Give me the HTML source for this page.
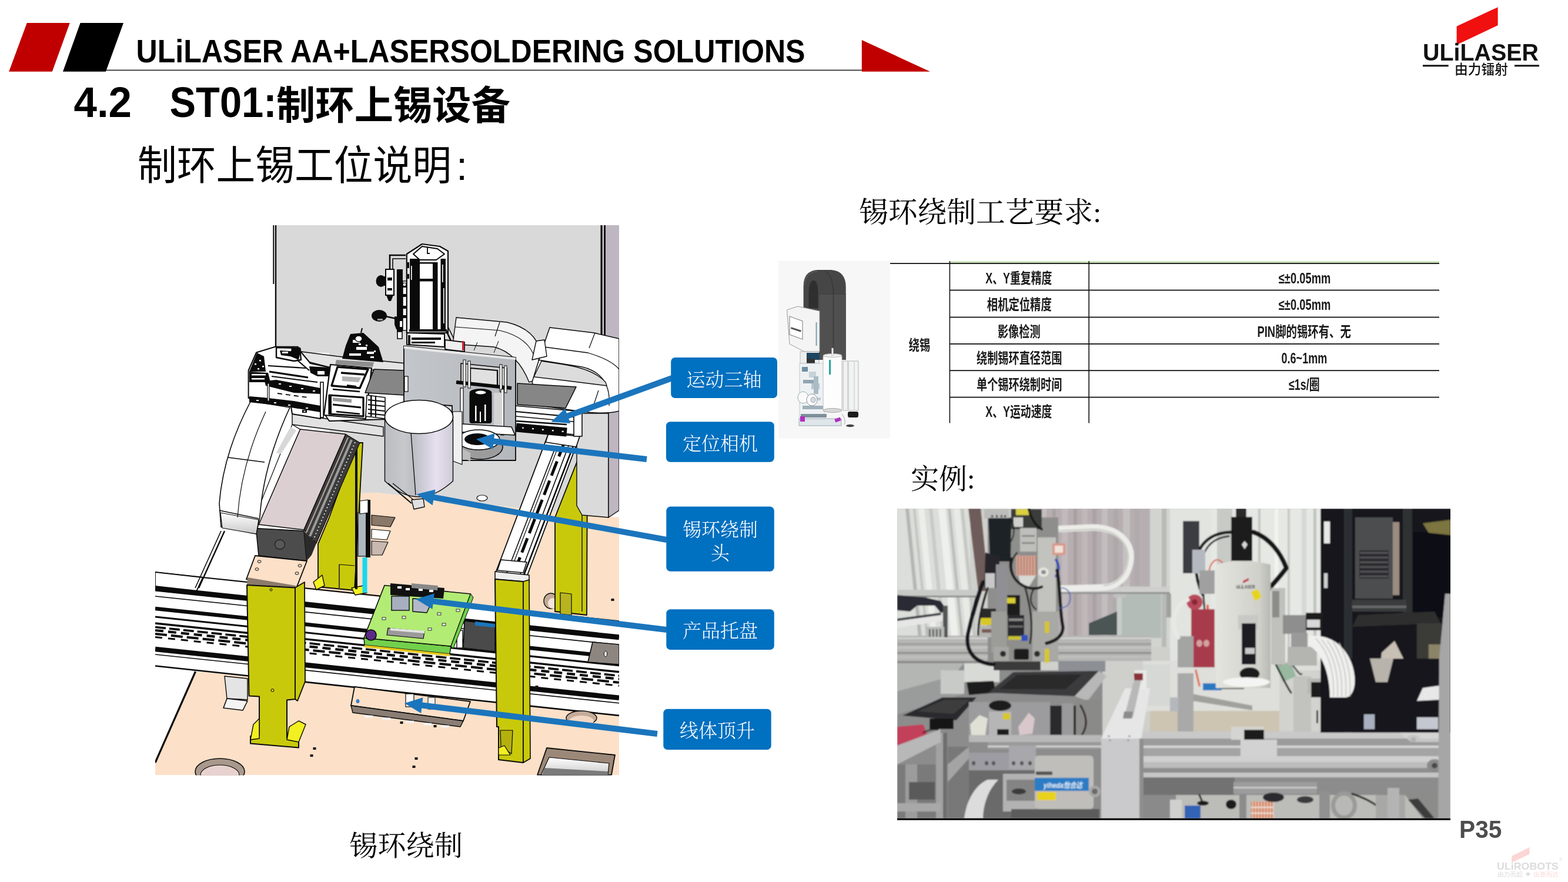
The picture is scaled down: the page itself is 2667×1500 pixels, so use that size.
<!DOCTYPE html>
<html lang="zh-CN">
<head>
<meta charset="utf-8">
<title>4.2 ST01:制环上锡设备</title>
<style>
html,body{margin:0;padding:0;background:#fff;}
body{width:2667px;height:1500px;overflow:hidden;position:relative;font-family:"Liberation Sans","Noto Sans CJK SC",sans-serif;}
svg{position:absolute;left:0;top:0;display:block;will-change:transform;}
.sans{font-family:"Liberation Sans","Noto Sans CJK SC",sans-serif;}
.serif{font-family:"Liberation Serif","Noto Serif CJK SC",serif;}
</style>
</head>
<body>
<svg id="slide" width="2667" height="1500" viewBox="0 0 2667 1500">
<!-- HEADER -->
<g id="header">
<polygon points="45.8,38.9 118.8,38.9 88.8,121.7 15.2,121.7" fill="#c00000"/>
<polygon points="136.6,38.9 210,38.9 180,121.7 107,121.7" fill="#000"/>
<rect x="180" y="118.6" width="1290" height="1.6" fill="#222"/>
<polygon points="1465.8,68.1 1582,121.7 1465.8,121.7" fill="#c00000"/>
<text class="sans" x="231.5" y="106.2" font-size="55" font-weight="700" fill="#000" textLength="1138" lengthAdjust="spacingAndGlyphs">ULiLASER AA+LASERSOLDERING SOLUTIONS</text>
</g>
<!-- LOGO -->
<g id="logo">
<polygon points="2477.6,44.8 2547.7,12.2 2547.7,43 2477.6,76.3" fill="#f01010"/>
<text class="sans" x="2420" y="102.5" font-size="40" font-weight="700" fill="#111" textLength="197" lengthAdjust="spacingAndGlyphs">ULiLASER</text>
<rect x="2420" y="110.3" width="43.7" height="3" fill="#111"/>
<rect x="2576" y="110.3" width="42" height="3" fill="#111"/>
<text class="sans" x="2474" y="126" font-size="23" font-weight="500" fill="#111" textLength="91" lengthAdjust="spacingAndGlyphs">由力镭射</text>
</g>
<!-- TITLES -->
<g id="titles">
<text class="sans" x="125.5" y="199.2" font-size="72" font-weight="700" fill="#000" textLength="98.5" lengthAdjust="spacingAndGlyphs">4.2</text>
<text class="sans" x="288.5" y="199.2" font-size="72" font-weight="700" fill="#000" textLength="182" lengthAdjust="spacingAndGlyphs">ST01:</text>
<text class="sans" x="470" y="202.5" font-size="67.5" font-weight="700" fill="#000" textLength="398" lengthAdjust="spacingAndGlyphs">制环上锡设备</text>
<text class="sans" x="234" y="305.5" font-size="69" fill="#000" textLength="534" lengthAdjust="spacingAndGlyphs">制环上锡工位说明</text>
<text class="sans" x="776" y="305.5" font-size="69" fill="#000">:</text>
<text class="serif" x="1461" y="378" font-size="49" fill="#000" textLength="412" lengthAdjust="spacingAndGlyphs">锡环绕制工艺要求:</text>
<text class="serif" x="1549" y="831" font-size="48" fill="#000">实例:</text>
<text class="serif" x="594" y="1455" font-size="48" fill="#000" textLength="193" lengthAdjust="spacingAndGlyphs">锡环绕制</text>
</g>
<defs><clipPath id="cadclip"><rect x="264" y="383" width="789" height="935.5"/></clipPath><linearGradient id="cylg" x1="0" x2="1" y1="0" y2="0"><stop offset="0" stop-color="#b9bcc0"/><stop offset="0.28" stop-color="#c6c8cc"/><stop offset="0.42" stop-color="#bcbec4"/><stop offset="0.75" stop-color="#e6e0f0"/><stop offset="1" stop-color="#cfcbd6"/></linearGradient><linearGradient id="boxg" x1="0" x2="1" y1="0" y2="0"><stop offset="0" stop-color="#c3c6ca"/><stop offset="1" stop-color="#b4b8bd"/></linearGradient><linearGradient id="endg" x1="0" x2="0" y1="0" y2="1"><stop offset="0" stop-color="#ffffff"/><stop offset="1" stop-color="#c9c9c9"/></linearGradient></defs>
<g id="cad" clip-path="url(#cadclip)">
<polygon points="470,383 1030,383 1030,880 940,870 640,838 560,838 560,600 470,600" fill="#d9d9d9"/>
<polygon points="1030,383 1053,383 1053,578 1030,571" fill="#beb6c1"/>
<rect x="1021.5" y="383" width="3.2" height="190" fill="#0a0a0a"/>
<rect x="1027" y="383" width="3" height="190" fill="#0a0a0a"/>
<rect x="464.3" y="383" width="2" height="100" fill="#0a0a0a"/>
<rect x="467.8" y="383" width="2.4" height="218" fill="#0a0a0a"/>
<polygon points="520,838 640,838 940,870 1053,880 1053,1318 264,1318 264,1297 332,1142 440,1150 440,960 520,960" fill="#fce0c8"/>
<polyline points="332.5,1142 264,1297" fill="none" stroke="#0a0a0a" stroke-width="3.2"/>
<polygon points="264,972 1053,1062 1053,1217 264,1134" fill="#ffffff"/>
<line x1="264" y1="973.5" x2="1053" y2="1056.3" stroke="#0a0a0a" stroke-width="2.2"/>
<line x1="264" y1="1001.0" x2="1053" y2="1083.8" stroke="#0a0a0a" stroke-width="9"/>
<line x1="264" y1="1014.0" x2="1053" y2="1096.8" stroke="#0a0a0a" stroke-width="1.6"/>
<line x1="264" y1="1035.0" x2="1053" y2="1117.8" stroke="#0a0a0a" stroke-width="6.5"/>
<line x1="264" y1="1049.0" x2="1053" y2="1131.8" stroke="#0a0a0a" stroke-width="3"/>
<line x1="264" y1="1060.0" x2="1053" y2="1142.8" stroke="#0a0a0a" stroke-width="3.4"/>
<line x1="264" y1="1066.5" x2="1053" y2="1149.3" stroke="#0a0a0a" stroke-width="3.6" stroke-dasharray="18 6"/>
<line x1="264" y1="1072.0" x2="1053" y2="1154.8" stroke="#0a0a0a" stroke-width="4.2" stroke-dasharray="14 8"/>
<line x1="264" y1="1078.0" x2="1053" y2="1160.8" stroke="#0a0a0a" stroke-width="4" stroke-dasharray="20 7"/>
<line x1="264" y1="1083.5" x2="1053" y2="1166.3" stroke="#0a0a0a" stroke-width="3" stroke-dasharray="12 10"/>
<line x1="264" y1="1104.0" x2="1053" y2="1186.8" stroke="#0a0a0a" stroke-width="8.5"/>
<line x1="264" y1="1113.0" x2="1053" y2="1195.8" stroke="#0a0a0a" stroke-width="1.6"/>
<line x1="264" y1="1132.5" x2="1053" y2="1216.9" stroke="#0a0a0a" stroke-width="2.6"/>
<polygon points="264,973 345,982 333,1008 264,1000" fill="#fff" stroke="#0a0a0a" stroke-width="1.8" stroke-linejoin="round"/>
<polygon points="264,996 336,1004 332,1012 264,1005" fill="#0a0a0a"/>
<polyline points="382,903 338,1000" fill="none" stroke="#0a0a0a" stroke-width="2.4"/>
<polyline points="376,903 332,1000" fill="none" stroke="#0a0a0a" stroke-width="1.6"/>
<polygon points="382,1150 421,1154 421,1190 386,1188" fill="#e4e4e4" stroke="#0a0a0a" stroke-width="1.4" stroke-linejoin="round"/>
<polygon points="386,1188 421,1192 413,1208 380,1204" fill="#f4f4f4" stroke="#0a0a0a" stroke-width="1.6" stroke-linejoin="round"/>
<polygon points="603,1168 800,1193 788,1226 597,1200" fill="#fce0c8" stroke="#0a0a0a" stroke-width="1.8" stroke-linejoin="round"/>
<polygon points="597,1200 788,1226 783,1236 600,1212" fill="#8a7d74" stroke="#0a0a0a" stroke-width="1.4" stroke-linejoin="round"/>
<rect x="690" y="1180" width="14" height="22" fill="#fff" stroke="#0a0a0a" stroke-width="1.2"/>
<rect x="728" y="1186" width="12" height="20" fill="#f2f2f2" stroke="#0a0a0a" stroke-width="1"/>
<ellipse cx="608.5" cy="1192.5" rx="3" ry="3.5" fill="#3b7fc4"/>
<rect x="620" y="1216.6" width="14" height="4" fill="#f4f4f4"/>
<rect x="650" y="1220.5" width="14" height="4" fill="#f4f4f4"/>
<rect x="690" y="1225.7" width="14" height="4" fill="#f4f4f4"/>
<rect x="720" y="1229.6" width="14" height="4" fill="#f4f4f4"/>
<rect x="750" y="1233.5" width="14" height="4" fill="#f4f4f4"/>
<ellipse cx="374" cy="1312" rx="42" ry="22" fill="#a8998c" stroke="#0a0a0a" stroke-width="1.6"/>
<ellipse cx="374" cy="1318" rx="33" ry="17" fill="#e8d2d0" stroke="#0a0a0a" stroke-width="1.2"/>
<ellipse cx="989" cy="1221" rx="26" ry="12" fill="#c4aa98" stroke="#0a0a0a" stroke-width="1.4"/>
<ellipse cx="989" cy="1226" rx="21" ry="9" fill="#f2d6c4"/>
<ellipse cx="937" cy="1022" rx="12" ry="13" fill="#c4aa98" stroke="#0a0a0a" stroke-width="1.4"/>
<ellipse cx="940" cy="1026" rx="8" ry="9" fill="#f6e4dc"/>
<polygon points="930,1272 1046,1284 1040,1318 914,1318" fill="#9c8878" stroke="#0a0a0a" stroke-width="1.8" stroke-linejoin="round"/>
<polygon points="934,1288 1036,1298 1034,1318 920,1318" fill="url(#endg)" stroke="#0a0a0a" stroke-width="1.2" stroke-linejoin="round"/>
<polygon points="926,1306 1034,1312 1034,1318 922,1318" fill="#7a7a7a"/>
<rect x="680.5" y="1227" width="5" height="4" fill="#111"/>
<rect x="737.5" y="1233" width="5" height="4" fill="#111"/>
<rect x="910.5" y="1166" width="5" height="4" fill="#111"/>
<rect x="1039.5" y="1018" width="5" height="4" fill="#111"/>
<rect x="705.5" y="1288" width="5" height="4" fill="#111"/>
<rect x="701.5" y="1302" width="5" height="4" fill="#111"/>
<rect x="532.5" y="1271" width="5" height="4" fill="#111"/>
<rect x="527.5" y="1283" width="5" height="4" fill="#111"/>
<polygon points="1008,1092 1053,1096 1053,1130 1000,1126" fill="#8d8680" stroke="#0a0a0a" stroke-width="1.6" stroke-linejoin="round"/>
<ellipse cx="1030" cy="1112" rx="2.5" ry="4.5" fill="#fff" stroke="#0a0a0a" stroke-width="1"/>
<polygon points="606,753 617,753 603,1004 541,998 541,925 560,880" fill="#c9c90c" stroke="#0a0a0a" stroke-width="1.8" stroke-linejoin="round"/>
<polyline points="577,960 577,1000" fill="none" stroke="#0a0a0a" stroke-width="1.4"/>
<polyline points="577,960 603,962" fill="none" stroke="#0a0a0a" stroke-width="1.2"/>
<polygon points="533,990 548,978 552,996 538,1003" fill="#f2f020" stroke="#0a0a0a" stroke-width="1.4" stroke-linejoin="round"/>
<polygon points="598,1000 618,996 624,1008 604,1012" fill="#f2f020" stroke="#0a0a0a" stroke-width="1.4" stroke-linejoin="round"/>
<rect x="604" y="752" width="4" height="250" fill="#0a0a0a"/>
<rect x="609" y="872" width="16" height="74" fill="#aeb8c0" stroke="#0a0a0a" stroke-width="1.2"/>
<rect x="622" y="850" width="8" height="98" fill="#0a0a0a"/>
<polygon points="612,852 626,850 626,872 612,874" fill="#fff" stroke="#0a0a0a" stroke-width="1.2" stroke-linejoin="round"/>
<rect x="616.5" y="948" width="8" height="60" fill="#18d8f0"/>
<polygon points="632,876 672,880 664,896 632,893" fill="#8a7868" stroke="#0a0a0a" stroke-width="1.2" stroke-linejoin="round"/>
<polygon points="632,900 664,903 658,918 632,916" fill="#fff" stroke="#0a0a0a" stroke-width="1.2" stroke-linejoin="round"/>
<polygon points="632,920 660,922 650,944 632,944" fill="#c8b8b0" stroke="#0a0a0a" stroke-width="1.2" stroke-linejoin="round"/>
<polygon points="985,776 999,776 998,1046 944,1040 944,880" fill="#c9c90c" stroke="#0a0a0a" stroke-width="1.8" stroke-linejoin="round"/>
<polyline points="990,776 990,1040" fill="none" stroke="#0a0a0a" stroke-width="1.4"/>
<polygon points="953,1008 972,1010 972,1046 953,1044" fill="#b8b420" stroke="#0a0a0a" stroke-width="1.2" stroke-linejoin="round"/>
<polygon points="981,703 1035,703 1035,880 990,876 981,860" fill="#dadada" stroke="#0a0a0a" stroke-width="1.4" stroke-linejoin="round"/>
<polygon points="1035,700 1053,694 1053,868 1035,880" fill="#beb6c1" stroke="#0a0a0a" stroke-width="1.4" stroke-linejoin="round"/>
<polygon points="790,1056 842,1062 842,1108 788,1102" fill="#4a4a4a" stroke="#0a0a0a" stroke-width="1.6" stroke-linejoin="round"/>
<polygon points="808,1057 842,1061 842,1067 808,1064" fill="#1b75bc"/>
<rect x="777" y="1072" width="10" height="30" fill="#fff" stroke="#0a0a0a" stroke-width="1.4"/>
<polygon points="619,1085 767,1099 765,1112 620,1097" fill="#72d04c" stroke="#0a0a0a" stroke-width="1.4" stroke-linejoin="round"/>
<polygon points="620,1097 765,1112 765,1116 620,1101" fill="#e6c81e"/>
<polygon points="654,995.5 800.5,1010 767,1099 619,1085" fill="#b2ec74" stroke="#0a0a0a" stroke-width="1.6" stroke-linejoin="round"/>
<polygon points="800.5,1010 805,1016 771,1103 767,1099" fill="#72d04c" stroke="#0a0a0a" stroke-width="1" stroke-linejoin="round"/>
<polygon points="664,992 756,1000 754,1018 664,1012" fill="#111"/>
<rect x="666" y="1014" width="30" height="24" fill="#a6aec0" stroke="#0a0a0a" stroke-width="1.4"/>
<polygon points="702,1018 736,1020 726,1042 702,1040" fill="#b4b8c8" stroke="#0a0a0a" stroke-width="1.4" stroke-linejoin="round"/>
<rect x="676" y="997" width="7" height="4" fill="#fff"/>
<rect x="690" y="1000" width="7" height="4" fill="#fff"/>
<rect x="712" y="1001" width="7" height="4" fill="#fff"/>
<rect x="730" y="1003" width="7" height="4" fill="#fff"/>
<polygon points="700,992 745,996 744,1004 700,1000" fill="#888"/>
<polygon points="660,1068 722,1074 720,1086 658,1080" fill="#9a9a9a" stroke="#0a0a0a" stroke-width="1.2" stroke-linejoin="round"/>
<polygon points="664,1068 722,1073 722,1077 664,1072" fill="#e4e4e4"/>
<ellipse cx="631" cy="1080" rx="9" ry="9" fill="#5a2a86" stroke="#0a0a0a" stroke-width="1.6"/>
<rect x="744" y="1042" width="6" height="4" fill="#f0f0f0" stroke="#0a0a0a" stroke-width="0.8"/>
<rect x="752" y="1060" width="6" height="4" fill="#f0f0f0" stroke="#0a0a0a" stroke-width="0.8"/>
<rect x="728" y="1068" width="6" height="4" fill="#f0f0f0" stroke="#0a0a0a" stroke-width="0.8"/>
<rect x="684" y="1048" width="6" height="4" fill="#f0f0f0" stroke="#0a0a0a" stroke-width="0.8"/>
<rect x="776" y="1036" width="6" height="4" fill="#f0f0f0" stroke="#0a0a0a" stroke-width="0.8"/>
<rect x="650" y="1050" width="6" height="4" fill="#f0f0f0" stroke="#0a0a0a" stroke-width="0.8"/>
<polygon points="933,737 986,742 897,978 843,974" fill="#fff" stroke="#0a0a0a" stroke-width="1.8" stroke-linejoin="round"/>
<polyline points="945,760 862,974" fill="none" stroke="#0a0a0a" stroke-width="1.6"/>
<polyline points="972,745 885,976" fill="none" stroke="#0a0a0a" stroke-width="1.6"/>
<polyline points="960,752 874,975" fill="none" stroke="#0a0a0a" stroke-width="5" stroke-dasharray="26 9"/>
<polyline points="950,758 868,972" fill="none" stroke="#0a0a0a" stroke-width="1.2"/>
<polyline points="979,748 891,978" fill="none" stroke="#0a0a0a" stroke-width="2.6"/>
<polygon points="933,737 986,742 980,760 928,752" fill="#fff" stroke="#0a0a0a" stroke-width="1.6" stroke-linejoin="round"/>
<polygon points="852,952 896,956 890,974 846,970" fill="#fff" stroke="#0a0a0a" stroke-width="1.6" stroke-linejoin="round"/>
<polygon points="497,704 652,726 652,742 497,722" fill="#e2e2e2" stroke="#0a0a0a" stroke-width="1.4" stroke-linejoin="round"/>
<polygon points="510.5,730 588,738.5 517,901 440,892" fill="#dccfd2" stroke="#0a0a0a" stroke-width="1.6" stroke-linejoin="round"/>
<polygon points="497,722 510.5,730 440,892 430,888" fill="#fff" stroke="#0a0a0a" stroke-width="1.2" stroke-linejoin="round"/>
<polygon points="494,726 504,732 478,772 470,770" fill="#d8d8d8"/>
<polygon points="588,738.5 612,753 538,924 517,901" fill="#3c3c3c" stroke="#0a0a0a" stroke-width="1.2" stroke-linejoin="round"/>
<polyline points="598,748 527,912" fill="none" stroke="#9c9c9c" stroke-width="4"/>
<polyline points="604,752 533,918" fill="none" stroke="#fff" stroke-width="1.6" stroke-dasharray="2 4"/>
<polyline points="592,744 521,906" fill="none" stroke="#b8a8a0" stroke-width="2"/>
<polygon points="435.5,898.5 517,903 521.5,954 440,945" fill="#4c4c4c" stroke="#0a0a0a" stroke-width="1.6" stroke-linejoin="round"/>
<ellipse cx="476" cy="926" rx="8.5" ry="8" fill="#585858" stroke="#222" stroke-width="1.4"/>
<polygon points="517,903 538,924 530,944 521.5,954" fill="#2a2a2a"/>
<polygon points="434,945 522,954 504,1000 419,985" fill="#fce0c8" stroke="#0a0a0a" stroke-width="1.8" stroke-linejoin="round"/>
<polygon points="421,982 503,996 502,1003 420,995" fill="#8c7b6b"/>
<ellipse cx="441" cy="955" rx="3" ry="2.2" fill="#fce0c8" stroke="#0a0a0a" stroke-width="1"/>
<ellipse cx="437" cy="968" rx="3" ry="2.2" fill="#fce0c8" stroke="#0a0a0a" stroke-width="1"/>
<ellipse cx="510" cy="962" rx="3" ry="2.2" fill="#fce0c8" stroke="#0a0a0a" stroke-width="1"/>
<ellipse cx="505" cy="975" rx="3" ry="2.2" fill="#fce0c8" stroke="#0a0a0a" stroke-width="1"/>
<polygon points="420,995 502,999.5 502,1189 488,1190.5 488,1255 508,1259 508,1271.5 426,1264.5 426,1252 441,1250 441,1184.5 423.5,1183.5" fill="#c9c90c" stroke="#0a0a0a" stroke-width="2" stroke-linejoin="round"/>
<polygon points="502,999.5 518,990 519,1159 506,1192 502,1189" fill="#c9c90c" stroke="#0a0a0a" stroke-width="1.8" stroke-linejoin="round"/>
<polygon points="431,1232 441,1222 441,1256 426,1258" fill="#f2f020" stroke="#0a0a0a" stroke-width="1.4" stroke-linejoin="round"/>
<polygon points="492,1236 508,1226 520,1232 508,1262 488,1258" fill="#f2f020" stroke="#0a0a0a" stroke-width="1.4" stroke-linejoin="round"/>
<ellipse cx="463.5" cy="1174" rx="2.5" ry="2.5" fill="#c9c90c" stroke="#0a0a0a" stroke-width="1"/>
<ellipse cx="461" cy="1003" rx="2" ry="2" fill="#c9c90c" stroke="#0a0a0a" stroke-width="1"/>
<polygon points="842,972 900,978 900,990 842,985" fill="#efefef" stroke="#0a0a0a" stroke-width="1.6" stroke-linejoin="round"/>
<polygon points="842,985 890,989 890,1297 848,1292 848,1236 845,1236" fill="#c9c90c" stroke="#0a0a0a" stroke-width="2" stroke-linejoin="round"/>
<polygon points="890,989 900,986 902,1290 890,1297" fill="#c9c90c" stroke="#0a0a0a" stroke-width="1.6" stroke-linejoin="round"/>
<polygon points="851,1242 872,1242 870,1282 852,1270" fill="#b4b010" stroke="#0a0a0a" stroke-width="1.2" stroke-linejoin="round"/>
<polygon points="848,1272 858,1268 868,1284 848,1284" fill="#f2f020" stroke="#0a0a0a" stroke-width="1.2" stroke-linejoin="round"/>
<path d="M426.6,682 Q380,770 373,856 L376,896 L436,908 L442,879 Q448,790 493,693 Z" fill="#fff" stroke="#0a0a0a" stroke-width="1.6"/>
<polyline points="388,778 450,786" fill="none" stroke="#0a0a0a" stroke-width="1.5"/>
<polyline points="373,868 440,882" fill="none" stroke="#0a0a0a" stroke-width="1.5"/>
<polygon points="375,872 440,884 436,908 378,898" fill="url(#endg)" stroke="#0a0a0a" stroke-width="1.2" stroke-linejoin="round"/>
<path d="M452,700 Q410,790 404,880" fill="none" stroke="#0a0a0a" stroke-width="1.2"/>
<polygon points="512,598 574,606 690,618 690,632 566,626 512,612" fill="#e4e4e4" stroke="#0a0a0a" stroke-width="1.4" stroke-linejoin="round"/>
<polygon points="422.6,630 436,599.5 468,589.7 506.6,589.7 513,600 528,618 566,626 690,640 690,712 560,716 545,694 495,691 422.6,677" fill="#fff" stroke="#0a0a0a" stroke-width="2" stroke-linejoin="round"/>
<polygon points="424,632 437,600 449,606 452,632" fill="#0a0a0a"/>
<rect x="433" y="618" width="3" height="2.5" fill="#fff"/>
<rect x="441" y="612" width="3" height="2.5" fill="#fff"/>
<rect x="438" y="626" width="3" height="2.5" fill="#fff"/>
<rect x="446" y="622" width="3" height="2.5" fill="#fff"/>
<polygon points="470,591 510,592 512,612 500,614 470,608" fill="#fff" stroke="#0a0a0a" stroke-width="2.4" stroke-linejoin="round"/>
<polygon points="476,596 506,598 500,607 478,604" fill="#0a0a0a"/>
<polygon points="496,590 512,593 508,612 494,606" fill="#0a0a0a"/>
<rect x="480" y="598" width="10" height="3" fill="#fff"/>
<polygon points="424,632 456,634 460,650 424,650" fill="#0a0a0a"/>
<rect x="428" y="636" width="24" height="2.5" fill="#fff"/>
<rect x="428" y="643" width="22" height="2.5" fill="#fff"/>
<polygon points="526,623 562,625 566,640 540,640 528,634" fill="#0a0a0a"/>
<rect x="540" y="631" width="12" height="6" fill="#fff"/>
<polyline points="456,622 520,626" fill="none" stroke="#0a0a0a" stroke-width="2.2"/>
<polyline points="458,632 524,642" fill="none" stroke="#0a0a0a" stroke-width="3"/>
<polyline points="462,640 540,650" fill="none" stroke="#0a0a0a" stroke-width="2"/>
<polyline points="505,612 526,630" fill="none" stroke="#0a0a0a" stroke-width="2"/>
<polygon points="450,648 470,646 545,660 545,670 500,668 452,656" fill="#0a0a0a"/>
<rect x="474" y="652" width="4" height="2" fill="#fff"/>
<rect x="492" y="656" width="4" height="2" fill="#fff"/>
<rect x="512" y="660" width="4" height="2" fill="#fff"/>
<rect x="532" y="664" width="4" height="2" fill="#fff"/>
<polygon points="424,674 448,676 500,682 545,690 545,700 495,692 424,684" fill="#0a0a0a"/>
<rect x="436" y="680" width="4" height="2" fill="#fff"/>
<rect x="466" y="684" width="4" height="2" fill="#fff"/>
<rect x="490" y="688" width="4" height="2" fill="#fff"/>
<rect x="520" y="693" width="4" height="2" fill="#fff"/>
<polyline points="472,669 524,676" fill="none" stroke="#0a0a0a" stroke-width="1.8" stroke-dasharray="8 6"/>
<rect x="455" y="652" width="3" height="30" fill="#fff" stroke="#0a0a0a" stroke-width="1.2"/>
<polygon points="495,692 545,700 545,712 497,704" fill="#fff" stroke="#0a0a0a" stroke-width="2" stroke-linejoin="round"/>
<rect x="514" y="697" width="8" height="5" fill="#0a0a0a"/>
<rect x="516.5" y="698.5" width="3" height="2" fill="#fff"/>
<rect x="545" y="650" width="5" height="60" fill="#fff" stroke="#0a0a0a" stroke-width="1.6"/>
<polygon points="562,620 632,626 622,712 551,706" fill="#fff" stroke="#0a0a0a" stroke-width="2.2" stroke-linejoin="round"/>
<polygon points="574,624 626,628 612,660 564,656" fill="#fff" stroke="#0a0a0a" stroke-width="3.4" stroke-linejoin="round"/>
<polygon points="582,640 614,642 610,650 582,648" fill="#b4b4b4"/>
<polyline points="580,634 620,637" fill="none" stroke="#0a0a0a" stroke-width="3.5"/>
<polyline points="566,662 612,666" fill="none" stroke="#0a0a0a" stroke-width="2.5"/>
<polyline points="590,656 606,658" fill="none" stroke="#0a0a0a" stroke-width="4"/>
<polygon points="560,672 618,676 618,708 560,704" fill="#fff" stroke="#0a0a0a" stroke-width="3.2" stroke-linejoin="round"/>
<polygon points="566,676 598,679 598,685 566,682" fill="#9c9c9c"/>
<polyline points="566,688 614,693" fill="none" stroke="#0a0a0a" stroke-width="3"/>
<polyline points="572,700 612,704" fill="none" stroke="#0a0a0a" stroke-width="2.4"/>
<rect x="560" y="674" width="4" height="30" fill="#0a0a0a"/>
<polygon points="624,672 655,676 655,712 622,708" fill="#fff" stroke="#0a0a0a" stroke-width="1.6" stroke-linejoin="round"/>
<polyline points="626,680 654,683" fill="none" stroke="#0a0a0a" stroke-width="2.2"/>
<polyline points="626,688 654,691" fill="none" stroke="#0a0a0a" stroke-width="2.2"/>
<polyline points="626,696 654,699" fill="none" stroke="#0a0a0a" stroke-width="2.2"/>
<polyline points="626,703 654,706" fill="none" stroke="#0a0a0a" stroke-width="2.2"/>
<rect x="630" y="672" width="2.5" height="36" fill="#0a0a0a"/>
<rect x="638" y="673" width="2" height="36" fill="#0a0a0a"/>
<polygon points="572,612 636,616 634,624 570,620" fill="#8e8e8e"/>
<polygon points="636,628 688,630 688,672 621,668" fill="#868686" stroke="#0a0a0a" stroke-width="1.6" stroke-linejoin="round"/>
<polygon points="596,568 618,566 644,590 652,616 582,610 588,588" fill="#0a0a0a"/>
<rect x="600" y="578" width="12" height="5" fill="#fff"/>
<rect x="606" y="590" width="18" height="5" fill="#fff"/>
<rect x="594" y="601" width="20" height="4" fill="#fff"/>
<rect x="624" y="598" width="12" height="4" fill="#fff"/>
<rect x="610" y="584" width="4" height="3" fill="#fff"/>
<rect x="630" y="606" width="6" height="3" fill="#fff"/>
<rect x="636" y="596" width="3" height="3" fill="#fff"/>
<rect x="622" y="586" width="3" height="3" fill="#fff"/>
<ellipse cx="610" cy="576" rx="6" ry="5" fill="#fff" stroke="#0a0a0a" stroke-width="1.4"/>
<polyline points="614,566 616,558" fill="none" stroke="#0a0a0a" stroke-width="2"/>
<path d="M776,540 L862,548 Q912,560 920,600 L930,640 L900,650 Q880,600 840,590 L770,585 Z" fill="#f4f4f4" stroke="#0a0a0a" stroke-width="1.4"/>
<path d="M774,556 L850,562 Q900,574 910,610" fill="none" stroke="#0a0a0a" stroke-width="1.2"/>
<polyline points="850,548 842,572" fill="none" stroke="#0a0a0a" stroke-width="1.2"/>
<polyline points="812,582 806,596" fill="none" stroke="#0a0a0a" stroke-width="1"/>
<polyline points="848,580 840,600" fill="none" stroke="#0a0a0a" stroke-width="1"/>
<path d="M935,557 L1010,566 L1053,576 L1053,699 Q1030,705 990,700 L920,690 L905,650 Q920,600 935,557 Z" fill="#fff" stroke="#0a0a0a" stroke-width="1.5"/>
<path d="M925,590 L1000,600 Q1040,612 1053,628" fill="none" stroke="#0a0a0a" stroke-width="1.3"/>
<path d="M915,612 L990,624 Q1040,636 1036,690" fill="none" stroke="#0a0a0a" stroke-width="1.3"/>
<polyline points="1012,566 1002,592" fill="none" stroke="#0a0a0a" stroke-width="1.2"/>
<polyline points="1018,664 1008,694" fill="none" stroke="#0a0a0a" stroke-width="1.2"/>
<path d="M921,614 L960,620 Q1010,628 1030,650 L1032,656 L1000,652 L960,647 L908,641 Z" fill="#dcdcdc" stroke="#0a0a0a" stroke-width="1.3"/>
<polygon points="912,580 926,578 930,606 905,612" fill="#fff" stroke="#0a0a0a" stroke-width="1.4" stroke-linejoin="round"/>
<polygon points="880,652 980,658 962,694 880,688" fill="#868686" stroke="#0a0a0a" stroke-width="1.6" stroke-linejoin="round"/>
<polygon points="876,690 990,700 985,740 876,728" fill="#fff" stroke="#0a0a0a" stroke-width="1.6" stroke-linejoin="round"/>
<polyline points="878,700 986,710" fill="none" stroke="#0a0a0a" stroke-width="2"/>
<polyline points="878,708 986,718" fill="none" stroke="#0a0a0a" stroke-width="1.4"/>
<polyline points="878,727 964,735" fill="none" stroke="#0a0a0a" stroke-width="15"/>
<polyline points="888,727.5 960,734" fill="none" stroke="#fff" stroke-width="2.2" stroke-dasharray="3 14"/>
<polyline points="878,716 964,722" fill="none" stroke="#0a0a0a" stroke-width="2.4"/>
<polygon points="976,700 990,696 990,742 976,742" fill="#fff" stroke="#0a0a0a" stroke-width="1.6" stroke-linejoin="round"/>
<polygon points="687,588.5 877,608 877,783 769,783 769,690 687,684" fill="url(#boxg)" stroke="#0a0a0a" stroke-width="1.8" stroke-linejoin="round"/>
<polygon points="687,588.5 877,608 877,612 687,593" fill="#e8e8e8"/>
<rect x="688" y="640" width="6" height="26" fill="#fff" stroke="#0a0a0a" stroke-width="1.2"/>
<polygon points="784,618 862,626 862,660 784,652" fill="#d0d0d0" stroke="#0a0a0a" stroke-width="1.6" stroke-linejoin="round"/>
<polygon points="800,626 846,630 846,656 800,652" fill="#e0e0e0" stroke="#0a0a0a" stroke-width="2.2" stroke-linejoin="round"/>
<polyline points="776,650 870,660" fill="none" stroke="#0a0a0a" stroke-width="6"/>
<rect x="788" y="612" width="4" height="46" fill="#fff" stroke="#0a0a0a" stroke-width="1"/>
<rect x="796" y="614" width="4" height="46" fill="#fff" stroke="#0a0a0a" stroke-width="1"/>
<rect x="850" y="620" width="4" height="46" fill="#fff" stroke="#0a0a0a" stroke-width="1"/>
<rect x="858" y="622" width="4" height="46" fill="#fff" stroke="#0a0a0a" stroke-width="1"/>
<rect x="783" y="660" width="5" height="80" fill="#fff" stroke="#0a0a0a" stroke-width="1.2"/>
<rect x="852" y="662" width="5" height="78" fill="#fff" stroke="#0a0a0a" stroke-width="1.2"/>
<rect x="840" y="668" width="14" height="70" fill="#d4d4d4"/>
<rect x="798.5" y="668" width="38" height="52" fill="#0a0a0a" rx="4"/>
<ellipse cx="817.5" cy="668" rx="19" ry="7" fill="#0a0a0a"/>
<ellipse cx="817.5" cy="667.5" rx="9" ry="3" fill="#fff"/>
<rect x="808" y="690" width="2.5" height="26" fill="#fff"/>
<rect x="824" y="688" width="2.5" height="28" fill="#fff"/>
<rect x="816" y="700" width="2" height="18" fill="#fff"/>
<polygon points="770,720 870,726 876,740 770,734" fill="#fff" stroke="#0a0a0a" stroke-width="1.6" stroke-linejoin="round"/>
<ellipse cx="817" cy="760" rx="38" ry="21" fill="#9c9c9c" stroke="#0a0a0a" stroke-width="1.6"/>
<ellipse cx="814" cy="748" rx="36" ry="17" fill="#fff" stroke="#0a0a0a" stroke-width="1.6"/>
<ellipse cx="812" cy="747" rx="22" ry="10" fill="#0a0a0a"/>
<polygon points="780,760 800,770 800,784 782,778" fill="#bdbdbd"/>
<polygon points="770,700 786,700 786,790 770,784" fill="#f0f0f0" stroke="#0a0a0a" stroke-width="1.2" stroke-linejoin="round"/>
<path d="M654.5,709 V818 Q712,872 770.5,818 V709 Z" fill="url(#cylg)" stroke="#0a0a0a" stroke-width="1.4"/>
<polyline points="699,736 707,842" fill="none" stroke="#0a0a0a" stroke-width="1.3"/>
<ellipse cx="712.5" cy="709" rx="58" ry="28.5" fill="#fff" stroke="#0a0a0a" stroke-width="1.6"/>
<polyline points="660,822 700,856" fill="none" stroke="#0a0a0a" stroke-width="2"/>
<polyline points="668,822 706,852" fill="none" stroke="#0a0a0a" stroke-width="1.4"/>
<polygon points="700,850 720,848 722,862 704,866" fill="#e0e0e0" stroke="#0a0a0a" stroke-width="1.4" stroke-linejoin="round"/>
<ellipse cx="820" cy="847" rx="9" ry="5" fill="#fff" stroke="#0a0a0a" stroke-width="1.2"/>
<polyline points="663,458 663,434 690,434" fill="none" stroke="#0a0a0a" stroke-width="2.6"/>
<polyline points="668,458 668,440 690,440" fill="none" stroke="#0a0a0a" stroke-width="1.6"/>
<rect x="675" y="458" width="10" height="106" fill="#0a0a0a"/>
<rect x="685" y="478" width="7" height="84" fill="#fff" stroke="#0a0a0a" stroke-width="1.4"/>
<rect x="685" y="484" width="7" height="5" fill="#0a0a0a"/>
<rect x="685" y="500" width="7" height="5" fill="#0a0a0a"/>
<rect x="685" y="520" width="7" height="5" fill="#0a0a0a"/>
<rect x="685" y="536" width="7" height="5" fill="#0a0a0a"/>
<ellipse cx="688" cy="484" rx="3" ry="3" fill="#fff" stroke="#0a0a0a" stroke-width="1.2"/>
<rect x="656" y="458" width="14" height="44" fill="#fff" stroke="#0a0a0a" stroke-width="2"/>
<rect x="659" y="472" width="8" height="5" fill="#0a0a0a"/>
<rect x="659" y="490" width="8" height="4" fill="#0a0a0a"/>
<polygon points="657,502 669,502 665,512 661,512" fill="#0a0a0a"/>
<ellipse cx="648" cy="478" rx="8.5" ry="10" fill="#0a0a0a"/>
<rect x="652" y="470" width="5" height="16" fill="#0a0a0a"/>
<ellipse cx="645" cy="537" rx="13" ry="10" fill="#0a0a0a"/>
<rect x="642" y="542" width="9" height="3" fill="#9a9a9a"/>
<polyline points="656,538 674,542" fill="none" stroke="#0a0a0a" stroke-width="2.4"/>
<polygon points="671,538 685,540 685,563 674,560 671,552" fill="#0a0a0a"/>
<rect x="680" y="546" width="4" height="10" fill="#fff"/>
<rect x="676" y="564" width="8" height="12" fill="#fff" stroke="#0a0a0a" stroke-width="1.6"/>
<polygon points="691.8,432 718,415 748,419 762,427 762,566 691.8,566" fill="#fff" stroke="#0a0a0a" stroke-width="2.2" stroke-linejoin="round"/>
<rect x="697" y="440" width="17" height="124" fill="#0a0a0a"/>
<rect x="736" y="446" width="8.5" height="116" fill="#0a0a0a"/>
<rect x="749.5" y="440" width="8.5" height="122" fill="#0a0a0a"/>
<rect x="752" y="450" width="1.6" height="30" fill="#fff"/>
<rect x="754" y="490" width="1.6" height="60" fill="#fff"/>
<rect x="699" y="452" width="1.6" height="24" fill="#fff"/>
<rect x="714" y="446" width="22" height="2.5" fill="#0a0a0a"/>
<rect x="710" y="474" width="30" height="4.5" fill="#0a0a0a"/>
<rect x="696" y="560" width="64" height="4" fill="#0a0a0a"/>
<rect x="693" y="446" width="3" height="10" fill="#0a0a0a"/>
<rect x="693" y="466" width="3" height="8" fill="#0a0a0a"/>
<polygon points="703,432 718,419 744,423 756,432 742,442 714,442" fill="#fff" stroke="#0a0a0a" stroke-width="2" stroke-linejoin="round"/>
<polyline points="727,420 727,431 731,431" fill="none" stroke="#0a0a0a" stroke-width="1.8"/>
<polyline points="758,560 768,582" fill="none" stroke="#0a0a0a" stroke-width="2.6"/>
<polyline points="762,556 772,576" fill="none" stroke="#0a0a0a" stroke-width="1.6"/>
<polygon points="692,566 756,568 756,590 692,586" fill="#fff" stroke="#0a0a0a" stroke-width="2" stroke-linejoin="round"/>
<rect x="700" y="574" width="50" height="4" fill="#0a0a0a"/>
<rect x="700" y="581" width="40" height="3" fill="#0a0a0a"/>
<rect x="694" y="570" width="4" height="16" fill="#0a0a0a"/>
<polygon points="757,578 790,582 790,598 757,594" fill="#efefef" stroke="#0a0a0a" stroke-width="1.8" stroke-linejoin="round"/>
<rect x="786" y="580" width="3.5" height="16" fill="#c8283c"/>
</g>
<g id="arrows">
<polygon points="1141.3,638.3 963.9,702.7 961.0,694.7 937.4,717.6 970.2,720.1 967.3,712.1 1144.7,647.7" fill="#1b75bc"/>
<polygon points="1100.6,776.0 840.4,745.5 841.4,737.1 810.0,747.0 838.2,763.9 839.2,755.5 1099.4,786.0" fill="#1b75bc"/>
<polygon points="1134.9,913.1 739.0,841.0 740.5,832.6 708.6,840.5 735.7,859.2 737.2,850.8 1133.1,922.9" fill="#1b75bc"/>
<polygon points="1134.6,1066.0 737.8,1017.7 738.8,1009.2 707.4,1019.0 735.5,1036.0 736.6,1027.6 1133.4,1076.0" fill="#1b75bc"/>
<polygon points="1118.6,1243.0 718.4,1194.6 719.4,1186.2 688.0,1196.0 716.2,1213.0 717.2,1204.6 1117.4,1253.0" fill="#1b75bc"/>
</g>
<!-- LABELS -->
<g id="labels" class="serif" font-size="32" font-weight="300" fill="#fff" text-anchor="middle">
<rect x="1141.2" y="608" width="180.8" height="69" rx="7" fill="#0070c0"/>
<text x="1231.6" y="656.5">运动三轴</text>
<rect x="1133" y="717.3" width="183.8" height="68.4" rx="7" fill="#0070c0"/>
<text x="1224.9" y="765.5">定位相机</text>
<rect x="1133.3" y="861.6" width="183.5" height="110.1" rx="7" fill="#0070c0"/>
<text x="1225" y="912">锡环绕制</text>
<text x="1225" y="952">头</text>
<rect x="1133.3" y="1036.2" width="183.5" height="68.8" rx="7" fill="#0070c0"/>
<text x="1225" y="1084">产品托盘</text>
<rect x="1128.3" y="1205.7" width="183.4" height="69.3" rx="7" fill="#0070c0"/>
<text x="1220" y="1253.5">线体顶升</text>
</g>
<g id="spec">
<rect x="1324" y="443.7" width="190" height="302" fill="#f7f7f7"/>
<g id="unit">
<path d="M1366.6,530 V486 Q1366.6,461 1390,459 H1414 Q1438.7,461 1438.7,488 V612 H1393 V530 Z" fill="#464646"/>
<path d="M1375.5,500 Q1375.5,478 1384,477 Q1391.5,478 1391.5,500 V524 H1375.5 Z" fill="#2f2f2f"/>
<path d="M1393,500 H1438.7 V612 H1393 Z" fill="#505050"/>
<path d="M1404,461 Q1417,470 1417.5,500 V612" stroke="#383838" stroke-width="1.5" fill="none"/>
<path d="M1393,500 H1438.7" stroke="#3a3a3a" stroke-width="1.2" fill="none"/>
<path d="M1368,486 Q1369,464 1390,461" stroke="#5c5c5c" stroke-width="1.5" fill="none"/>
<path d="M1338.5,527 L1357,521 L1394,529 V598 L1368,598 L1343,585 Z" fill="#f4f4f4" stroke="#9a9a9a" stroke-width="1"/>
<path d="M1343,538 L1365,546 V577 L1343,569 Z" fill="#fff" stroke="#8c8c8c" stroke-width="1.2"/>
<rect x="1387.5" y="548" width="2.2" height="40" fill="#7fa8b8"/>
<rect x="1345" y="559" width="18" height="3" fill="#555" transform="rotate(18 1354 560)"/>
<rect x="1361" y="598" width="32" height="20" fill="#eee" stroke="#aaa" stroke-width="0.8"/>
<rect x="1372" y="600" width="22" height="12" fill="#1d4560"/>
<rect x="1372" y="610" width="14" height="10" fill="#333"/>
<rect x="1360" y="618" width="42" height="100" fill="#eef1f3" stroke="#b8c0c6" stroke-width="0.8"/>
<rect x="1364" y="624" width="10" height="8" fill="#6f8ea3"/>
<rect x="1376" y="632" width="12" height="10" fill="#c8d2d8"/>
<rect x="1366" y="646" width="18" height="6" fill="#90a4b0"/>
<rect x="1380" y="652" width="14" height="10" fill="#b7c7d0"/>
<rect x="1365" y="690" width="36" height="6" fill="#9fb0ba"/>
<rect x="1362" y="704" width="44" height="6" fill="#7d8f9a"/>
<rect x="1384" y="640" width="8" height="30" fill="#a9bbc5"/>
<rect x="1370" y="676" width="26" height="5" fill="#c2ccd2"/>
<ellipse cx="1366" cy="676" rx="9" ry="10" fill="#fafafa" stroke="#9aa" stroke-width="1"/>
<ellipse cx="1381" cy="680" rx="9" ry="10" fill="#fff" stroke="#8a9499" stroke-width="1"/>
<ellipse cx="1383" cy="680" rx="4" ry="4.5" fill="#d8dde0" stroke="#7a868c" stroke-width="0.8"/>
<rect x="1400" y="604" width="32" height="94" rx="3" fill="#fdfdfd" stroke="#b4b4b4" stroke-width="0.9"/>
<ellipse cx="1416" cy="604.5" rx="16" ry="3" fill="#f0f0f0" stroke="#aaa" stroke-width="0.8"/>
<rect x="1414.5" y="592" width="3" height="12" fill="#eee" stroke="#aaa" stroke-width="0.6"/>
<rect x="1410" y="612" width="3.2" height="25" fill="#2ba8a0"/>
<ellipse cx="1416" cy="698" rx="16" ry="3.5" fill="#d8d8d8" stroke="#999" stroke-width="0.8"/>
<rect x="1434" y="614" width="26" height="84" fill="#f2f2f2" stroke="#aeaeae" stroke-width="0.9"/>
<rect x="1441" y="614" width="3" height="84" fill="#cfd4d8"/>
<rect x="1452" y="614" width="2" height="84" fill="#d9dcdf"/>
<rect x="1442" y="700" width="18" height="10" rx="3" fill="#1c1c1c"/>
<ellipse cx="1446" cy="724" rx="7" ry="2.2" fill="#444"/>
<rect x="1359" y="712" width="72" height="12" fill="#dfe6ea" stroke="#8b9aa3" stroke-width="0.8"/>
<rect x="1361" y="708" width="8" height="9" fill="#b030c0"/>
<rect x="1420" y="711" width="10" height="6" fill="#b030c0" transform="rotate(-20 1425 714)"/>
<path d="M1432,704 Q1440,716 1436,722" stroke="#bbb" stroke-width="1.2" fill="none"/>
</g>
<rect x="1615.4" y="444.3" width="832.6" height="3.2" fill="#c6e0b4"/>
<rect x="1514" y="447.2" width="934" height="1.8" fill="#111"/>
<rect x="1615.4" y="492.6" width="832.6" height="1.8" fill="#111"/>
<rect x="1615.4" y="538.6" width="832.6" height="1.8" fill="#111"/>
<rect x="1615.4" y="584.0" width="832.6" height="1.8" fill="#111"/>
<rect x="1615.4" y="629.3" width="832.6" height="1.8" fill="#111"/>
<rect x="1615.4" y="674.7" width="832.6" height="1.8" fill="#111"/>
<rect x="1614.6" y="444" width="1.6" height="275.5" fill="#111"/>
<rect x="1851.4" y="444" width="1.6" height="275.5" fill="#111"/>
<g font-family="&quot;Liberation Sans&quot;,&quot;Noto Sans CJK SC&quot;,sans-serif" font-size="25" font-weight="700" fill="#1a1a1a">
<text x="1676.3" y="482.0" textLength="113.1" lengthAdjust="spacingAndGlyphs">X、Y重复精度</text>
<text x="2174.8" y="482.0" textLength="88.5" lengthAdjust="spacingAndGlyphs">≤±0.05mm</text>
<text x="1678.8" y="527.4" textLength="110.0" lengthAdjust="spacingAndGlyphs">相机定位精度</text>
<text x="2174.8" y="527.4" textLength="88.5" lengthAdjust="spacingAndGlyphs">≤±0.05mm</text>
<text x="1696.9" y="572.7" textLength="72.7" lengthAdjust="spacingAndGlyphs">影像检测</text>
<text x="2138.5" y="572.7" textLength="159.3" lengthAdjust="spacingAndGlyphs">PIN脚的锡环有、无</text>
<text x="1661.0" y="618.0" textLength="145.4" lengthAdjust="spacingAndGlyphs">绕制锡环直径范围</text>
<text x="2179.5" y="618.0" textLength="77.8" lengthAdjust="spacingAndGlyphs">0.6~1mm</text>
<text x="1661.0" y="663.4" textLength="145.4" lengthAdjust="spacingAndGlyphs">单个锡环绕制时间</text>
<text x="2192.0" y="663.4" textLength="52.7" lengthAdjust="spacingAndGlyphs">≤1s/圈</text>
<text x="1676.3" y="708.8" textLength="113.1" lengthAdjust="spacingAndGlyphs">X、Y运动速度</text>
<text x="1545.8" y="595.5" textLength="36.4" lengthAdjust="spacingAndGlyphs">绕锡</text>
</g>
</g>
<defs><clipPath id="phclip"><rect x="1526" y="865" width="941" height="527"/></clipPath><filter id="phblur" x="-5%" y="-5%" width="110%" height="110%"><feGaussianBlur stdDeviation="1.3"/></filter><filter id="phblur2" x="-5%" y="-5%" width="110%" height="110%"><feGaussianBlur stdDeviation="3"/></filter><linearGradient id="wcyl" x1="0" x2="1" y1="0" y2="0"><stop offset="0" stop-color="#e4e4de"/><stop offset="0.35" stop-color="#dcdcd6"/><stop offset="0.8" stop-color="#d0d0ca"/><stop offset="1" stop-color="#b8b8b2"/></linearGradient><linearGradient id="railg" x1="0" x2="0" y1="0" y2="1"><stop offset="0" stop-color="#d2d2d2"/><stop offset="0.5" stop-color="#a2a2a2"/><stop offset="1" stop-color="#c4c4c4"/></linearGradient></defs>
<g id="photo" clip-path="url(#phclip)">
<rect x="1526" y="865" width="941" height="527" fill="#cfd0cc"/>
<g filter="url(#phblur)">
<rect x="1526" y="865" width="124" height="220" fill="#dcdeda"/>
<polygon points="1540,865 1546,865 1568,1085 1562,1085" fill="#b4b6b2"/>
<polygon points="1553,865 1557,865 1579,1085 1575,1085" fill="#c2c4c0"/>
<polygon points="1562,865 1572,865 1594,1085 1584,1085" fill="#eceeea"/>
<polygon points="1580,865 1586,865 1608,1085 1602,1085" fill="#c8cac6"/>
<polygon points="1596,865 1608,865 1630,1085 1618,1085" fill="#eef0ec"/>
<polygon points="1612,865 1617,865 1639,1085 1634,1085" fill="#bcbebb"/>
<polygon points="1622,865 1632,865 1654,1085 1644,1085" fill="#e8eae6"/>
<polygon points="1634,865 1639,865 1661,1085 1656,1085" fill="#c4c6c2"/>
<polygon points="1647,865 1668,865 1682,1005 1664,1005" fill="#6e5c5a"/>
<rect x="1760" y="865" width="230" height="225" fill="#b6aeb0"/>
<rect x="1772" y="865" width="8" height="220" fill="#c8c2c4" opacity="0.8"/>
<rect x="1790" y="865" width="6" height="220" fill="#a8a0a2" opacity="0.8"/>
<rect x="1806" y="865" width="10" height="220" fill="#c4bcbe" opacity="0.8"/>
<rect x="1826" y="865" width="6" height="220" fill="#a49c9e" opacity="0.8"/>
<rect x="1840" y="865" width="10" height="220" fill="#c2babc" opacity="0.8"/>
<rect x="1858" y="865" width="7" height="220" fill="#a8a0a4" opacity="0.8"/>
<rect x="1874" y="865" width="10" height="220" fill="#c6c0c2" opacity="0.8"/>
<rect x="1894" y="865" width="8" height="220" fill="#aca6a8" opacity="0.8"/>
<rect x="1910" y="865" width="12" height="220" fill="#c8c4c4" opacity="0.8"/>
<rect x="1930" y="865" width="8" height="220" fill="#b0aaac" opacity="0.8"/>
<rect x="1956" y="865" width="54" height="235" fill="#d2d4d0"/>
<rect x="1976" y="865" width="8" height="235" fill="#b8bab6"/>
<rect x="1990" y="865" width="80" height="265" fill="#e2e4e0"/>
<rect x="1898" y="1010" width="77" height="75" fill="#b4bcb8"/>
<polygon points="1852,1060 1900,1040 1900,1080 1852,1080" fill="#4c5452"/>
<rect x="2060" y="865" width="190" height="265" fill="#e6e8e4"/>
<rect x="2140" y="865" width="4" height="265" fill="#c4c6c2"/>
<rect x="2168" y="865" width="6" height="265" fill="#f2f4f0"/>
<rect x="2190" y="865" width="4" height="265" fill="#c8cac6"/>
<rect x="2214" y="865" width="8" height="265" fill="#d6d8d4"/>
<rect x="2234" y="865" width="5" height="265" fill="#c0c2be"/>
<rect x="2012" y="886" width="28" height="89" fill="#3a3e42"/>
<rect x="1526" y="1003" width="138" height="12" fill="#c8cac8"/>
<rect x="1526" y="1013" width="138" height="3" fill="#8a8c8a"/>
<rect x="1800" y="997.5" width="190" height="10.5" fill="#cfcfcd"/>
<rect x="1800" y="1007" width="190" height="3" fill="#909090"/>
<rect x="1894" y="1010" width="22" height="6" fill="#c0c0c0"/>
<rect x="1900" y="1016" width="8" height="64" fill="#c8ccc8"/>
<rect x="1984" y="1010" width="8" height="40" fill="#a0a09c"/>
<rect x="1526" y="1081" width="432" height="43" fill="#b6b6b4"/>
<rect x="1526" y="1084" width="432" height="3" fill="#d0d0ce"/>
<rect x="1526" y="1094" width="432" height="3" fill="#9c9c9a"/>
<rect x="1526" y="1100" width="432" height="3" fill="#c4c4c2"/>
<rect x="1526" y="1109" width="432" height="3" fill="#8e8e8c"/>
<rect x="1526" y="1116" width="432" height="3" fill="#c0c0be"/>
<polygon points="1526,1012 1574,1016 1600,1022 1612,1040 1600,1042 1590,1030 1560,1030 1548,1040 1526,1038" fill="#2a2c34"/>
<rect x="1604" y="1030" width="8" height="54" fill="#555"/>
<polygon points="1526,1056 1603,1046 1603,1056 1526,1068" fill="#e6e6e4"/>
<polygon points="1526,1052 1600,1042 1600,1046 1526,1056" fill="#33363c"/>
<rect x="1575" y="1066" width="31" height="18" fill="#b8bab8"/>
<rect x="1580" y="1070" width="2.5" height="13" fill="#555"/>
<rect x="1586" y="1070" width="2.5" height="13" fill="#555"/>
<rect x="1592" y="1070" width="2.5" height="13" fill="#555"/>
<rect x="1598" y="1070" width="2.5" height="13" fill="#555"/>
<path d="M1768,901 L1858,897 C1905,897 1926,925 1923,952 C1920,982 1900,998 1878,999 L1802,1001" fill="none" stroke="#ecece8" stroke-width="11" stroke-linecap="round" stroke-linejoin="round"/>
<path d="M1768,904 L1858,900 C1902,900 1921,927 1919,952 C1916,980 1898,995 1878,996" fill="none" stroke="#c6c6c2" stroke-width="2" stroke-linecap="round" stroke-linejoin="round"/>
<rect x="1768" y="895" width="22" height="14" fill="#3a3a3a"/>
<rect x="1526" y="1124" width="349" height="268" fill="#8c8c8c"/>
<polygon points="1526,1128 1640,1128 1620,1150 1526,1176" fill="#b4b6b4"/>
<polygon points="1526,1176 1620,1150 1640,1180 1526,1215" fill="#9a9c9c"/>
<rect x="1600" y="1140" width="40" height="40" fill="#c8cac8"/>
<rect x="1640" y="1128" width="60" height="32" fill="#d8dad6"/>
<polygon points="1644,1160 1690,1158 1694,1178 1648,1182" fill="#1c1c1e"/>
<rect x="1690" y="1124" width="80" height="16" fill="#3a3a3a"/>
<rect x="1770" y="1124" width="30" height="16" fill="#d0d0cc"/>
<rect x="1800" y="1124" width="80" height="18" fill="#8c9094"/>
<polygon points="1680.8,1178 1723.5,1143 1869,1141 1828,1184" fill="#3a3a3c"/>
<polygon points="1700,1172 1730,1148 1840,1147 1812,1172" fill="#2a2a2c"/>
<polygon points="1828,1184 1869,1141 1882,1150 1850,1192" fill="#b8b8b8"/>
<polygon points="1535,1217 1603,1186 1661,1186 1626.5,1225" fill="#2b2b2d"/>
<polygon points="1560,1210 1606,1190 1650,1190 1622,1214" fill="#3c3c3e"/>
<polygon points="1526,1236 1570,1232 1578,1250 1540,1268 1526,1270" fill="#c2405a"/>
<rect x="1581" y="1222" width="41" height="18" fill="#141416"/>
<path d="M1570,1246 C1590,1236 1606,1240 1600,1256" fill="none" stroke="#1a1a1a" stroke-width="2" stroke-linecap="round" stroke-linejoin="round"/>
<rect x="1592" y="1246" width="14" height="146" fill="#a2a2a2"/>
<rect x="1604" y="1246" width="7" height="146" fill="#6e6e6e"/>
<polygon points="1526,1268 1600,1240 1600,1262 1526,1300" fill="#b8b8b8"/>
<rect x="1526" y="1300" width="66" height="92" fill="#7a7a7a"/>
<rect x="1540" y="1300" width="20" height="92" fill="#9c9c9c"/>
<rect x="1546" y="1330" width="44" height="30" fill="#5a5a5a"/>
<rect x="1526" y="1366" width="74" height="14" fill="#a8a8a8"/>
<rect x="1648" y="1194" width="138" height="58" fill="#9c9c9e"/>
<rect x="1682" y="1210" width="38" height="42" fill="#b6b6b6"/>
<ellipse cx="1701" cy="1200" rx="19" ry="9" fill="#1c1c1c"/>
<rect x="1696" y="1240" width="20" height="12" fill="#1e1e1e"/>
<rect x="1706" y="1213" width="12" height="11" fill="#d8c828"/>
<polygon points="1650,1232 1666,1216 1680,1222 1676,1250 1652,1252" fill="#e0e0d4"/>
<polygon points="1732,1236 1750,1212 1760,1222 1756,1248 1734,1250" fill="#d8c8cc"/>
<rect x="1786" y="1200" width="44" height="50" fill="#2a2a2c"/>
<rect x="1806" y="1196" width="20" height="54" fill="#9a9a9c"/>
<rect x="1830" y="1190" width="42" height="60" fill="#8a8a88"/>
<path d="M1838,1200 C1850,1220 1850,1236 1840,1250" fill="none" stroke="#2a2020" stroke-width="3" stroke-linecap="round" stroke-linejoin="round"/>
<rect x="1648" y="1250" width="226" height="12" fill="#b8b8b8"/>
<rect x="1680" y="1262" width="194" height="12" fill="#9a9a9a"/>
<rect x="1680" y="1268" width="194" height="3" fill="#d0d0d0"/>
<rect x="1648" y="1280" width="114" height="30" fill="#9c9ca2"/>
<rect x="1716" y="1268" width="46" height="40" fill="#a8a8ac"/>
<ellipse cx="1656" cy="1298" rx="3" ry="3.4" fill="#555"/>
<ellipse cx="1678" cy="1298" rx="3" ry="3.4" fill="#555"/>
<ellipse cx="1690" cy="1298" rx="3" ry="3.4" fill="#555"/>
<ellipse cx="1724" cy="1298" rx="3" ry="3.4" fill="#555"/>
<ellipse cx="1738" cy="1298" rx="3" ry="3.4" fill="#555"/>
<ellipse cx="1752" cy="1298" rx="3" ry="3.4" fill="#555"/>
<rect x="1648" y="1310" width="114" height="82" fill="#6a6a6a"/>
<rect x="1706" y="1316" width="56" height="64" fill="#b2b2b2"/>
<rect x="1712" y="1326" width="48" height="36" fill="#848484"/>
<ellipse cx="1733" cy="1346" rx="12" ry="5" fill="#3a3a3a"/>
<rect x="1612" y="1270" width="36" height="122" fill="#787878"/>
<polygon points="1612,1300 1648,1270 1648,1290 1612,1330" fill="#a4a4a4"/>
<path d="M1640,1392 C1644,1360 1660,1334 1680,1326 L1698,1326 C1680,1344 1672,1370 1672,1392 Z" fill="#dcdcdc"/>
<rect x="1760" y="1285" width="100" height="91" fill="#c0beba" rx="6"/>
<rect x="1760" y="1322.8" width="92" height="22.2" fill="#2a7cc4"/>
<text x="1775" y="1339.5" font-family="&quot;Liberation Sans&quot;,&quot;Noto Sans CJK SC&quot;,sans-serif" font-size="13" font-weight="700" font-style="italic" fill="#e8f0f8" textLength="66" lengthAdjust="spacingAndGlyphs">yiheda怡合达</text>
<rect x="1764" y="1347" width="32" height="14" fill="#e8d21e"/>
<rect x="1762" y="1312" width="28" height="6" fill="#555"/>
<ellipse cx="1862" cy="1346" rx="10" ry="10" fill="#a8a8a8"/>
<ellipse cx="1862" cy="1346" rx="5" ry="5" fill="#6a6a6a"/>
<rect x="1720" y="1376" width="150" height="16" fill="#5c5c5c"/>
<rect x="1944" y="1124" width="318" height="86" fill="#dededa"/>
<polygon points="2028,1180 2130,1200 2130,1208 2028,1192" fill="#a0a09c"/>
<rect x="1956" y="1209" width="224" height="39" fill="#cdc5b2"/>
<rect x="1944" y="1130" width="46" height="70" fill="#d6d8d6"/>
<rect x="2003" y="1145" width="27" height="101" fill="#a9a9a9"/>
<rect x="1990" y="1186" width="14" height="24" fill="#b4b8bc"/>
<rect x="2176" y="1140" width="78" height="106" fill="#d2d2ce"/>
<rect x="2200" y="1150" width="30" height="96" fill="#c2c2be"/>
<rect x="2239" y="1208" width="3" height="22" fill="#222"/>
<rect x="2224" y="1154" width="32" height="26" fill="#b8b8b4"/>
<rect x="2046" y="1162" width="32" height="12" fill="#2a78c2"/>
<rect x="2078" y="1164" width="38" height="8" fill="#444"/>
<path d="M2034,1140 L2040,1166" fill="none" stroke="#e06038" stroke-width="3" stroke-linecap="round" stroke-linejoin="round"/>
<polygon points="2172,1130 2196,1126 2204,1150 2182,1160" fill="#98b8a0"/>
<path d="M2170,1130 C2180,1150 2190,1170 2196,1178" fill="none" stroke="#1c1c1c" stroke-width="3" stroke-linecap="round" stroke-linejoin="round"/>
<path d="M2196,1128 C2206,1140 2212,1150 2214,1146" fill="none" stroke="#1c1c1c" stroke-width="2.5" stroke-linecap="round" stroke-linejoin="round"/>
<rect x="2252" y="1139" width="9" height="146" fill="#8e8e8e"/>
<rect x="2230" y="1160" width="38" height="26" fill="#1a1a1c"/>
<rect x="2254" y="1125" width="8" height="15" fill="#1a1a1a"/>
<rect x="1944" y="1244" width="506" height="108" fill="#a8a8a8"/>
<rect x="1944" y="1244" width="506" height="12" fill="#c9c9c9"/>
<rect x="1944" y="1256" width="506" height="12" fill="#9b9b9b"/>
<rect x="1944" y="1268" width="506" height="4" fill="#d4d4d4"/>
<rect x="1944" y="1272" width="506" height="14" fill="#a4a4a4"/>
<rect x="1944" y="1286" width="506" height="10" fill="#d0d0d0"/>
<rect x="1944" y="1296" width="506" height="10" fill="#bcbcbc"/>
<rect x="1944" y="1306" width="506" height="8" fill="#8e8e8e"/>
<rect x="1944" y="1314" width="506" height="8" fill="#c6c6c6"/>
<rect x="1944" y="1322" width="506" height="30" fill="#8c8c8c"/>
<rect x="1944" y="1322" width="156" height="30" fill="#727272"/>
<rect x="2098" y="1330" width="142" height="20" fill="#9c9c9c"/>
<rect x="2098" y="1338" width="142" height="3" fill="#c8c8c8"/>
<rect x="2094" y="1236" width="56" height="22" fill="#d4d4d0"/>
<rect x="2116" y="1241" width="34" height="17" fill="#1c1c1e"/>
<rect x="2110" y="1258" width="62" height="28" fill="#d2d2d2"/>
<ellipse cx="2404" cy="1258" rx="12" ry="8" fill="#9a9a9a"/>
<ellipse cx="2404" cy="1258" rx="5" ry="4" fill="#555"/>
<ellipse cx="2440" cy="1302" rx="13" ry="11" fill="#8a8a8a"/>
<ellipse cx="2440" cy="1302" rx="5" ry="4.5" fill="#4a4a4a"/>
<polygon points="2380,1246 2450,1246 2450,1262 2400,1262" fill="#d8d8d8" opacity="0.7"/>
<rect x="1944" y="1352" width="506" height="40" fill="#bcbcb8"/>
<rect x="1944" y="1352" width="56" height="40" fill="#8a8a8a"/>
<rect x="1990" y="1360" width="20" height="32" fill="#d0d0d0"/>
<rect x="2015" y="1370" width="27" height="22" fill="#3264b4"/>
<ellipse cx="2046" cy="1366" rx="10" ry="4" fill="#1a1a1a"/>
<path d="M2040,1352 L2046,1366" fill="none" stroke="#1a1a1a" stroke-width="3" stroke-linecap="round" stroke-linejoin="round"/>
<ellipse cx="2094" cy="1368" rx="9" ry="8" fill="#1c1c1c"/>
<rect x="2108" y="1352" width="12" height="40" fill="#8c8c8c"/>
<rect x="2128" y="1363" width="38" height="29" fill="#d48868"/>
<rect x="2130" y="1363" width="1.4" height="29" fill="#f0d8c8"/>
<rect x="2135" y="1363" width="1.4" height="29" fill="#f0d8c8"/>
<rect x="2140" y="1363" width="1.4" height="29" fill="#f0d8c8"/>
<rect x="2145" y="1363" width="1.4" height="29" fill="#f0d8c8"/>
<rect x="2150" y="1363" width="1.4" height="29" fill="#f0d8c8"/>
<rect x="2155" y="1363" width="1.4" height="29" fill="#f0d8c8"/>
<rect x="2160" y="1363" width="1.4" height="29" fill="#f0d8c8"/>
<rect x="2165" y="1363" width="1.4" height="29" fill="#f0d8c8"/>
<rect x="2128" y="1372" width="38" height="2" fill="#f0e0d8"/>
<rect x="2128" y="1382" width="38" height="2" fill="#f0e0d8"/>
<ellipse cx="2166" cy="1356" rx="18" ry="8" fill="#2c2c2e"/>
<ellipse cx="2220" cy="1360" rx="14" ry="6" fill="#3a3a3c"/>
<rect x="2244" y="1346" width="18" height="46" fill="#909090"/>
<ellipse cx="2286" cy="1370" rx="22" ry="24" fill="#9a9a98"/>
<ellipse cx="2286" cy="1370" rx="15" ry="17" fill="#b8b8b4"/>
<path d="M2300,1350 C2330,1360 2350,1372 2360,1390" fill="none" stroke="#1a1a1a" stroke-width="3" stroke-linecap="round" stroke-linejoin="round"/>
<rect x="2340" y="1352" width="50" height="40" fill="#a8a8a6"/>
<polygon points="2390,1352 2450,1352 2450,1392 2420,1392" fill="#8c8c8a"/>
<polygon points="2395,1360 2412,1358 2440,1392 2424,1392" fill="#3c3c3c"/>
<rect x="2360" y="1340" width="20" height="52" fill="#b4b4b4"/>
<rect x="2246" y="865" width="224" height="381" fill="#18181a"/>
<rect x="2252" y="887" width="10" height="37" fill="#e8e8e8"/>
<rect x="2252" y="975" width="6" height="25" fill="#cfcfcf"/>
<rect x="2286" y="865" width="14" height="381" fill="#2c2e30"/>
<rect x="2386" y="865" width="16" height="195" fill="#2e3032"/>
<rect x="2305" y="880" width="64" height="138" fill="#4c4e50"/>
<rect x="2312" y="936" width="50" height="48" fill="#2c2c2e"/>
<rect x="2313" y="939" width="48" height="2.5" fill="#5a5a5c"/>
<rect x="2313" y="947" width="48" height="2.5" fill="#5a5a5c"/>
<rect x="2313" y="955" width="48" height="2.5" fill="#5a5a5c"/>
<rect x="2313" y="963" width="48" height="2.5" fill="#5a5a5c"/>
<rect x="2313" y="971" width="48" height="2.5" fill="#5a5a5c"/>
<rect x="2313" y="979" width="48" height="2.5" fill="#5a5a5c"/>
<rect x="2369" y="888" width="11" height="124" fill="#9a8c80"/>
<rect x="2300" y="1020" width="92" height="20" fill="#3a3c3e"/>
<rect x="2300" y="1030" width="92" height="4" fill="#686a6c"/>
<rect x="2404" y="905" width="63" height="145" fill="#101012"/>
<polygon points="2420,890 2467,884 2467,910 2430,906" fill="#7c7440"/>
<polygon points="2310,1046 2440,1040 2450,1060 2300,1066" fill="#2e2e2e"/>
<polygon points="2350,1110 2372,1090 2392,1130 2380,1150 2346,1150" fill="#c8c0b4"/>
<rect x="2410" y="1060" width="42" height="80" fill="#3a3a38"/>
<rect x="2430" y="1096" width="28" height="34" fill="#8c8468"/>
<polygon points="2262,1120 2448,1120 2448,1244 2262,1244" fill="#17171a"/>
<polygon points="2330,1120 2370,1120 2360,1160 2340,1160" fill="#b8b4ac"/>
<polygon points="2420,1170 2448,1166 2448,1190 2410,1192" fill="#e8e8e8"/>
<rect x="2410" y="1220" width="36" height="20" fill="#c4c8d0"/>
<rect x="2320" y="1215" width="18" height="25" fill="#a8b0c0"/>
<polygon points="2458,1010 2467,1010 2467,1392 2446,1392 2448,1120" fill="#a6a6a6"/>
<rect x="1680" y="880" width="120" height="245" fill="#8e8e8c"/>
<rect x="1674" y="866" width="42" height="16" fill="#bcbcba"/>
<rect x="1686" y="876" width="3" height="4" fill="#4a4a4a"/>
<rect x="1694" y="876" width="3" height="4" fill="#4a4a4a"/>
<rect x="1702" y="876" width="3" height="4" fill="#4a4a4a"/>
<rect x="1708" y="876" width="3" height="4" fill="#4a4a4a"/>
<polygon points="1681,881 1720,881 1719,955 1684,955" fill="#1f2126"/>
<polygon points="1676,940 1700,945 1700,1000 1674,1000" fill="#26282c"/>
<rect x="1694" y="960" width="19" height="76" fill="#909094"/>
<rect x="1676" y="975" width="16" height="25" fill="#c8c8c8"/>
<rect x="1720" y="866" width="52" height="34" fill="#3a3c3a"/>
<rect x="1728" y="866" width="22" height="10" fill="#d8d040"/>
<rect x="1724" y="880" width="16" height="16" fill="#d0d0cc"/>
<rect x="1735" y="898" width="28" height="40" fill="#bebeba"/>
<rect x="1738" y="910" width="22" height="3" fill="#8a8a88"/>
<rect x="1738" y="922" width="22" height="3" fill="#8a8a88"/>
<rect x="1765" y="914" width="31" height="140" fill="#c2c2be"/>
<rect x="1790" y="924" width="22" height="20" fill="#d89a88"/>
<rect x="1794" y="928" width="14" height="12" fill="#f0e0d8"/>
<rect x="1728.5" y="945" width="34.5" height="34" fill="#d6a494"/>
<rect x="1731" y="946" width="1.6" height="32" fill="#a87666"/>
<rect x="1736" y="946" width="1.6" height="32" fill="#a87666"/>
<rect x="1741" y="946" width="1.6" height="32" fill="#a87666"/>
<rect x="1746" y="946" width="1.6" height="32" fill="#a87666"/>
<rect x="1751" y="946" width="1.6" height="32" fill="#a87666"/>
<rect x="1756" y="946" width="1.6" height="32" fill="#a87666"/>
<rect x="1761" y="946" width="1.6" height="32" fill="#a87666"/>
<polygon points="1732,979 1762,979 1750,998 1736,994" fill="#d8d8d4"/>
<ellipse cx="1775" cy="973" rx="9" ry="8" fill="#e4e4e0"/>
<ellipse cx="1775" cy="973" rx="4" ry="3.5" fill="#8a8a8a"/>
<path d="M1796,952 C1802,960 1802,972 1796,980" fill="none" stroke="#2a50b8" stroke-width="4" stroke-linecap="round" stroke-linejoin="round"/>
<rect x="1713" y="1012" width="22" height="34" fill="#1c1c1e"/>
<rect x="1713" y="1016.5" width="14" height="9.5" fill="#d8cc30"/>
<rect x="1714" y="1046" width="28" height="38" fill="#2c2c2e"/>
<rect x="1716" y="1052" width="24" height="4" fill="#8a8a8a"/>
<rect x="1716" y="1064" width="24" height="3" fill="#6a6a6a"/>
<rect x="1715" y="1082" width="22" height="6" fill="#c8c030"/>
<rect x="1737" y="1080" width="11" height="10" fill="#3050c0"/>
<rect x="1724.7" y="1103.5" width="25.3" height="18.5" fill="#1a1a1c" rx="3"/>
<rect x="1668" y="1035" width="26" height="17" fill="#2a2a2c"/>
<rect x="1668.6" y="1051" width="17.4" height="12" fill="#d8c820"/>
<rect x="1666" y="1064" width="32" height="20" fill="#b4b4b0"/>
<rect x="1670" y="1070" width="24" height="6" fill="#7a5a58"/>
<rect x="1686" y="1040" width="26" height="70" fill="#9c9c98"/>
<rect x="1690" y="1100" width="26" height="24" fill="#a6a6a2"/>
<rect x="1756" y="1040" width="44" height="84" fill="#a8a8a4"/>
<rect x="1777" y="1057" width="7.6" height="19.4" fill="#d8c428"/>
<rect x="1777" y="1103.5" width="7.6" height="23.5" fill="#d8c828"/>
<ellipse cx="1764" cy="1112" rx="5" ry="5" fill="#2a2a2a"/>
<ellipse cx="1706" cy="1112" rx="5" ry="5" fill="#2a2a2a"/>
<path d="M1672,990 C1664,1010 1652,1050 1646,1080 C1642,1110 1660,1128 1690,1130" fill="none" stroke="#17181a" stroke-width="6.5" stroke-linecap="round" stroke-linejoin="round"/>
<path d="M1680,1000 C1670,1030 1664,1060 1664,1080" fill="none" stroke="#1c1c1e" stroke-width="3" stroke-linecap="round" stroke-linejoin="round"/>
<path d="M1720,950 C1716,968 1722,986 1740,996 C1752,1002 1764,1002 1772,998" fill="none" stroke="#1a1a1c" stroke-width="4.5" stroke-linecap="round" stroke-linejoin="round"/>
<path d="M1730,940 C1720,950 1718,965 1724,978" fill="none" stroke="#222" stroke-width="2.5" stroke-linecap="round" stroke-linejoin="round"/>
<path d="M1798,970 C1804,1000 1802,1040 1808,1066 C1808,1082 1796,1090 1780,1094" fill="none" stroke="#1a1a1c" stroke-width="5.5" stroke-linecap="round" stroke-linejoin="round"/>
<path d="M1744,1000 C1752,1030 1758,1060 1752,1094" fill="none" stroke="#202022" stroke-width="3" stroke-linecap="round" stroke-linejoin="round"/>
<path d="M1760,1000 C1750,1012 1752,1030 1762,1036" fill="none" stroke="#202022" stroke-width="2.5" stroke-linecap="round" stroke-linejoin="round"/>
<path d="M1806,1000 C1826,1000 1826,1036 1802,1034" fill="none" stroke="#3a58b8" stroke-width="1.6" stroke-linecap="round" stroke-linejoin="round"/>
<path d="M1720,884 C1726,896 1726,910 1720,920" fill="none" stroke="#1c1c1c" stroke-width="2" stroke-linecap="round" stroke-linejoin="round"/>
<path d="M1750,866 C1754,884 1764,896 1772,900" fill="none" stroke="#1c1c1c" stroke-width="4" stroke-linecap="round" stroke-linejoin="round"/>
<rect x="2070" y="865" width="26" height="95" fill="#c8cac6"/>
<rect x="2102" y="865" width="18" height="17" fill="#2a2a2a"/>
<rect x="2094" y="879" width="36" height="75" fill="#1e1e1f"/>
<polygon points="2112,926 2117,920 2122,926 2117,934" fill="#d8d8d8"/>
<path d="M2096,905 C2060,905 2036,925 2034,960 C2034,985 2040,1000 2046,1012" fill="none" stroke="#161617" stroke-width="5" stroke-linecap="round" stroke-linejoin="round"/>
<path d="M2090,912 C2060,915 2044,935 2044,965 C2044,1000 2052,1050 2050,1076" fill="none" stroke="#1c1c1e" stroke-width="3" stroke-linecap="round" stroke-linejoin="round"/>
<path d="M2132,905 C2160,915 2178,940 2188,966 C2170,990 2150,1010 2134,1028" fill="none" stroke="#141416" stroke-width="8" stroke-linecap="round" stroke-linejoin="round"/>
<path d="M2134,1028 C2128,1050 2134,1080 2144,1110" fill="none" stroke="#1a1a1c" stroke-width="2.5" stroke-linecap="round" stroke-linejoin="round"/>
<path d="M2056,975 C2058,955 2070,945 2080,958" fill="none" stroke="#e05030" stroke-width="2" stroke-linecap="round" stroke-linejoin="round"/>
<path d="M2054,1030 L2056,1100 L2050,1130" fill="none" stroke="#e85a38" stroke-width="4" stroke-linecap="round" stroke-linejoin="round"/>
<path d="M2174,1046 C2186,1060 2188,1100 2178,1130" fill="none" stroke="#d86050" stroke-width="3" stroke-linecap="round" stroke-linejoin="round"/>
<rect x="2028" y="935" width="22" height="40" fill="#b4b8c0"/>
<rect x="2040" y="970" width="26" height="40" fill="#a0a0a0"/>
<path d="M2068,960 Q2114,948 2161,960 V1170 H2068 Z" fill="url(#wcyl)"/>
<rect x="2162" y="1000" width="24" height="130" fill="#c0c0bc"/>
<rect x="2164" y="1005" width="12" height="45" fill="#8c8c88"/>
<polygon points="2114,988 2124,983 2124,987 2114,992" fill="#c03040"/>
<text x="2102.5" y="1001" font-family="&quot;Liberation Sans&quot;,sans-serif" font-size="8.5" font-weight="700" fill="#3a3a3a" textLength="32" lengthAdjust="spacingAndGlyphs">ULiLASER</text>
<polygon points="2128,1006 2140,1002 2146,1016 2134,1022" fill="#e6d41e"/>
<rect x="2106" y="1046" width="34" height="24" fill="#c8c8c4"/>
<rect x="2112" y="1060" width="24" height="70" fill="#1e1e20"/>
<rect x="2118" y="1102" width="16" height="10" fill="#c8c8c8"/>
<ellipse cx="2125.5" cy="1146" rx="17" ry="11" fill="#1a1a1c"/>
<ellipse cx="2120" cy="1160" rx="40" ry="8" fill="#f4f4f2"/>
<rect x="2026" y="1036" width="40" height="99" fill="#a83a4c"/>
<rect x="2003" y="1082" width="27" height="53" fill="#a4a4a2"/>
<ellipse cx="2032" cy="1024" rx="13.5" ry="13" fill="#b84a5a"/>
<ellipse cx="2032" cy="1024" rx="5" ry="5" fill="#8a2838"/>
<ellipse cx="2040" cy="1094" rx="5" ry="6" fill="#d4a0a0"/>
<ellipse cx="2052" cy="1094" rx="5" ry="6" fill="#d4a0a0"/>
<path d="M2020,1020 C1996,1030 1990,1060 2004,1084" fill="none" stroke="#e8e8e4" stroke-width="7" stroke-linecap="round" stroke-linejoin="round"/>
<rect x="2182" y="1046" width="40" height="32" fill="#8e8e8e"/>
<rect x="2196" y="1076" width="28" height="24" fill="#9a9a9a"/>
<rect x="2221" y="1042" width="29" height="30" fill="#1a1a1c"/>
<rect x="2223" y="1054" width="22" height="13" fill="#d8d8d8"/>
<rect x="2190" y="1100" width="50" height="32" fill="#b4b4b0"/>
<path d="M2226,1082 C2270,1076 2300,1110 2304,1150 C2306,1170 2300,1184 2290,1186 L2262,1186 C2262,1150 2250,1110 2226,1098 Z" fill="#f0f0ee"/>
<path d="M2238,1086 C2262,1110 2270,1150 2268,1184" fill="none" stroke="#c4c4c2" stroke-width="1.6" stroke-linecap="round" stroke-linejoin="round"/>
<path d="M2248,1088 C2270,1114 2277,1150 2275,1184" fill="none" stroke="#c4c4c2" stroke-width="1.6" stroke-linecap="round" stroke-linejoin="round"/>
<path d="M2258,1090 C2278,1118 2284,1150 2282,1184" fill="none" stroke="#c4c4c2" stroke-width="1.6" stroke-linecap="round" stroke-linejoin="round"/>
<path d="M2268,1092 C2286,1122 2291,1150 2289,1184" fill="none" stroke="#c4c4c2" stroke-width="1.6" stroke-linecap="round" stroke-linejoin="round"/>
<path d="M2278,1094 C2294,1126 2298,1150 2296,1184" fill="none" stroke="#c4c4c2" stroke-width="1.6" stroke-linecap="round" stroke-linejoin="round"/>
<polygon points="1913.7,1170.5 1956.4,1170.5 1941,1256 1873,1256" fill="#e6e6e6"/>
<polygon points="1930,1140 1950,1140 1950,1172 1926,1172" fill="#e9e9e7"/>
<polygon points="1930,1152 1942,1152 1927,1220 1912,1220" fill="#b8b8b8"/>
<polygon points="1912,1210 1927,1210 1925,1222 1910,1222" fill="#8c8c8c"/>
<rect x="1929" y="1145" width="15" height="12" fill="#8a3038"/>
<rect x="1873" y="1256" width="69" height="136" fill="#cacacc"/>
<rect x="1938" y="1256" width="7" height="136" fill="#8e8e8e"/>
<ellipse cx="1886" cy="1252" rx="2" ry="1.6" fill="#9a9a9a"/>
<ellipse cx="1921" cy="1252" rx="2" ry="1.6" fill="#9a9a9a"/>
<ellipse cx="1888" cy="1259" rx="2" ry="1.6" fill="#9a9a9a"/>
<ellipse cx="1919" cy="1259" rx="2" ry="1.6" fill="#9a9a9a"/>
</g>
</g>
<rect x="1526" y="1391.7" width="941" height="3.1" fill="#000"/>
<!-- FOOTER -->
<g id="footer">
<text class="sans" x="2482" y="1424.8" font-size="43" font-weight="700" fill="#4d4d4d" textLength="72.5" lengthAdjust="spacingAndGlyphs">P35</text>
<polygon points="2571.4,1455.7 2601.5,1441 2601.5,1452.5 2571.4,1467" fill="#fcd5d5"/>
<text class="sans" x="2546" y="1479" font-size="17" font-weight="700" fill="#dcdcdc" textLength="105" lengthAdjust="spacingAndGlyphs">ULiROBOTS</text>
<text class="sans" x="2652" y="1464" font-size="7" fill="#dcdcdc">®</text>
<text class="sans" x="2547" y="1490.5" font-size="10.5" fill="#dddddd" textLength="43" lengthAdjust="spacingAndGlyphs">由力而起</text>
<circle cx="2599" cy="1486.5" r="3" fill="#dddddd"/>
<text class="sans" x="2608" y="1490.5" font-size="10.5" fill="#fbdcdc" textLength="43" lengthAdjust="spacingAndGlyphs">由善而达</text>
</g>
</svg>
</body>
</html>
